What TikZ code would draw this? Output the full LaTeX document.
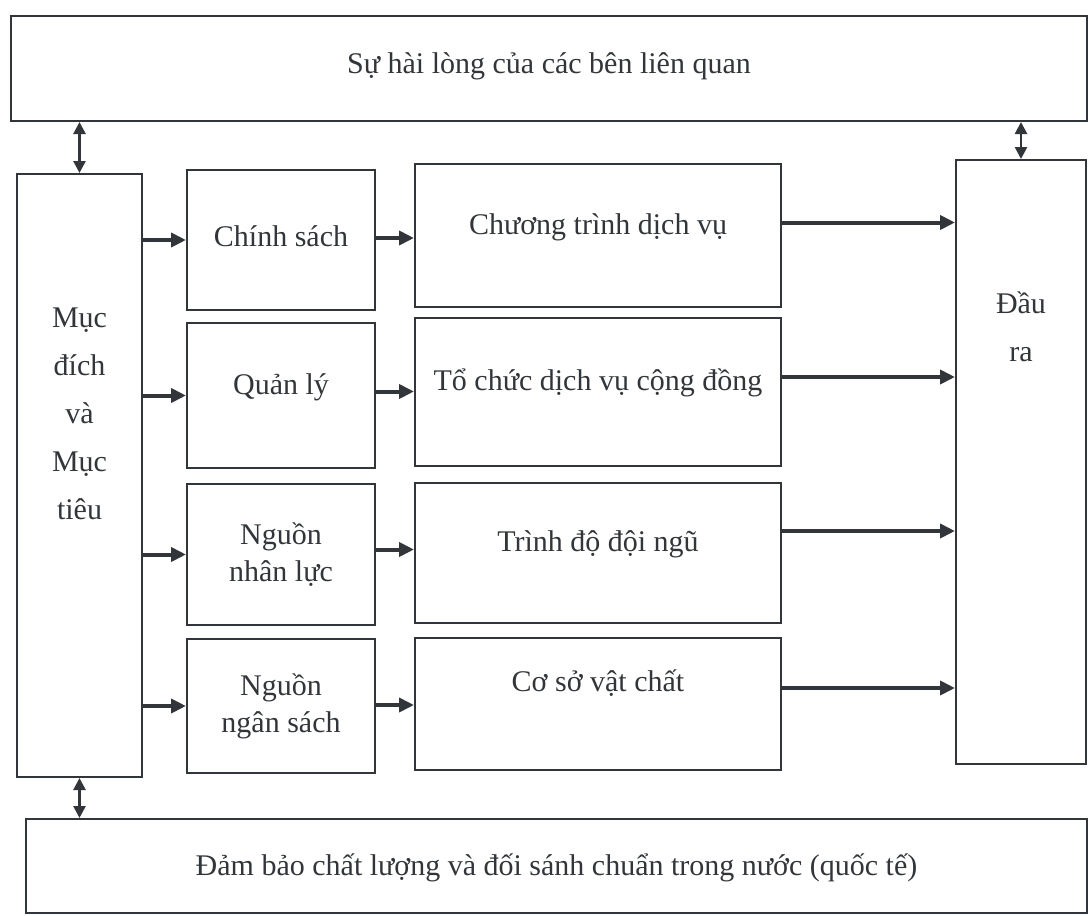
\documentclass[tikz,border=0pt]{standalone}
\usepackage{fontspec}
\setmainfont{Liberation Serif}
\usetikzlibrary{arrows.meta,positioning}
\definecolor{ink}{RGB}{50,54,58}
\begin{document}
\begin{tikzpicture}[x=1pt,y=-1pt,
  font=\fontsize{30}{48}\selectfont,
  box/.style={draw=ink,line width=2pt,inner sep=0pt,anchor=north west,text=ink},
  lbl/.style={text=ink,align=center,inner sep=0pt},
  flow/.style={draw=ink,line width=4pt,-{Triangle[length=15pt,width=14pt]}},
  both/.style={draw=ink,line width=2.6pt,{Triangle[length=12pt,width=12pt]}-{Triangle[length=12pt,width=12pt]}}]
\useasboundingbox (0,0) rectangle (1088,916);

% outer frame boxes
\node[box,minimum width=1076pt,minimum height=105pt] (top) at (10,15) {};
\node[lbl] (toptxt) at ([yshift=2pt]top.center) {Sự hài lòng của các bên liên quan};
\node[box,minimum width=1061pt,minimum height=94pt] (bot) at (25,818) {};
\node[lbl] (bottxt) at ([yshift=-2pt]bot.center) {Đảm bảo chất lượng và đối sánh chuẩn trong nước (quốc tế)};

% left and right columns
\node[box,minimum width=125pt,minimum height=603pt] (mt) at (16,173) {};
\node[lbl] (mttxt) at ([yshift=62pt]mt.center) {Mục\\đích\\và\\Mục\\tiêu};
\node[box,minimum width=130pt,minimum height=604pt] (out) at (955,159) {};
\node[lbl] (outtxt) at ([yshift=135pt]out.center) {Đầu\\ra};

% inputs
\node[box,minimum width=188pt,minimum height=140pt] (cs) at (186,169) {};
\node[lbl] (cstxt) at ([yshift=4pt]cs.center) {Chính sách};
\node[box,minimum width=188pt,minimum height=145pt] (ql) at (186,322) {};
\node[lbl] (qltxt) at ([yshift=8pt]ql.center) {Quản lý};
\node[box,minimum width=188pt,minimum height=141pt] (nl) at (186,483) {};
\node[lbl,font=\fontsize{30}{37}\selectfont] (nltxt) at (nl.center) {Nguồn\\nhân lực};
\node[box,minimum width=188pt,minimum height=134pt] (ns) at (186,638) {};
\node[lbl,font=\fontsize{30}{37}\selectfont] (nstxt) at (ns.center) {Nguồn\\ngân sách};

% processes
\node[box,minimum width=366pt,minimum height=143pt] (cp) at (414,163) {};
\node[lbl] (cptxt) at ([yshift=8pt]cp.center) {Chương trình dịch vụ};
\node[box,minimum width=366pt,minimum height=148pt] (tc) at (414,317) {};
\node[lbl] (tctxt) at ([yshift=9pt]tc.center) {Tổ chức dịch vụ cộng đồng};
\node[box,minimum width=366pt,minimum height=140pt] (td) at (414,482) {};
\node[lbl] (tdtxt) at ([yshift=9pt]td.center) {Trình độ đội ngũ};
\node[box,minimum width=366pt,minimum height=132pt] (cv) at (414,637) {};
\node[lbl] (cvtxt) at ([yshift=21pt]cv.center) {Cơ sở vật chất};

% goals to inputs
\draw[flow] (mt.east |- cs.west) -- (cs.west);
\draw[flow] (mt.east |- ql.west) -- (ql.west);
\draw[flow] (mt.east |- nl.west) -- (nl.west);
\draw[flow] (mt.east |- ns.west) -- (ns.west);

% inputs to processes
\draw[flow] ([yshift=2pt]cs.east) -- ([yshift=2pt]cs.east -| cp.west);
\draw[flow] ([yshift=4pt]ql.east) -- ([yshift=4pt]ql.east -| tc.west);
\draw[flow] ([yshift=5pt]nl.east) -- ([yshift=5pt]nl.east -| td.west);
\draw[flow] ([yshift=1pt]ns.east) -- ([yshift=1pt]ns.east -| cv.west);

% processes to outputs
\draw[flow] ([yshift=13pt]cp.east) -- ([yshift=13pt]cp.east -| out.west);
\draw[flow] ([yshift=15pt]tc.east) -- ([yshift=15pt]tc.east -| out.west);
\draw[flow] ([yshift=22pt]td.east) -- ([yshift=22pt]td.east -| out.west);
\draw[flow] ([yshift=16pt]cv.east) -- ([yshift=16pt]cv.east -| out.west);

% links to the frame boxes
\draw[both] (top.south -| mt.north) -- (mt.north);
\draw[both] (top.south -| out.north) -- (out.north);
\draw[both] (mt.south) -- (mt.south |- bot.north);
\end{tikzpicture}
\end{document}
